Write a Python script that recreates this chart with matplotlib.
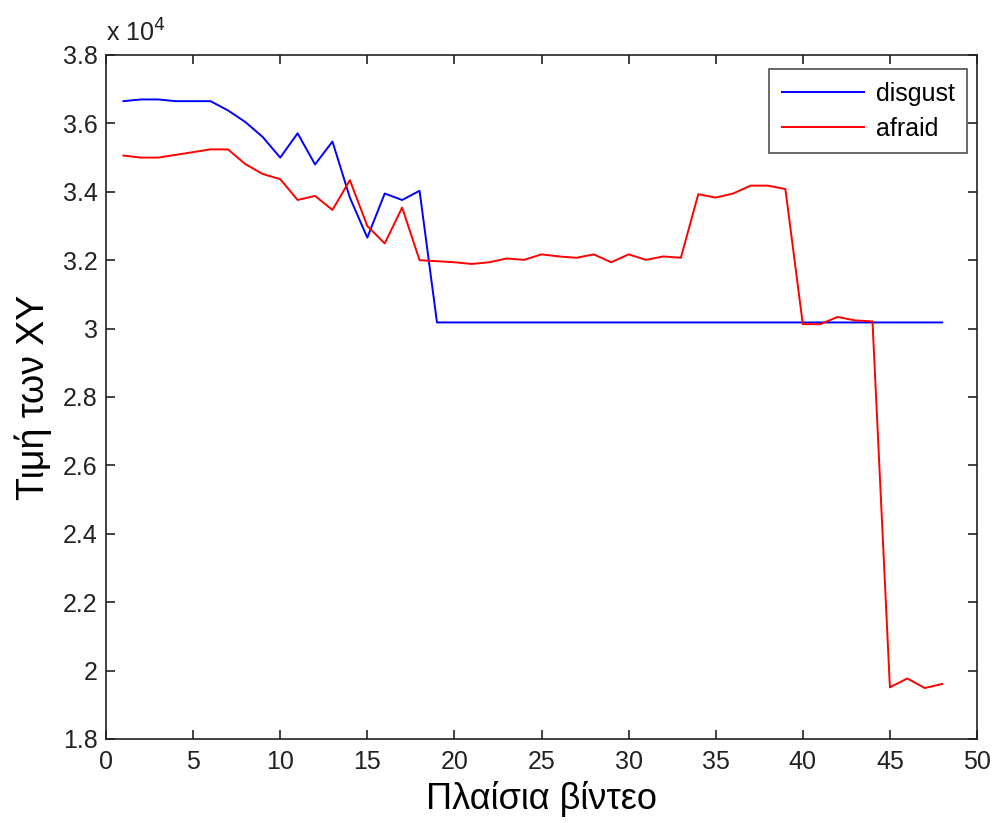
import matplotlib
matplotlib.use('Agg')
import matplotlib.pyplot as plt
import numpy as np

plt.rcParams['font.family'] = ['Liberation Sans', 'DejaVu Sans']

# video frames 1..48, values in units of 1e4
frames = list(range(1, 49))
disgust = [3.665, 3.670, 3.670, 3.665, 3.665, 3.665, 3.638, 3.604, 3.560, 3.500,
           3.571, 3.480, 3.547, 3.383, 3.266, 3.395, 3.376, 3.403] + [3.018] * 30
afraid = [3.506, 3.500, 3.500, 3.508, 3.516, 3.524, 3.524, 3.481, 3.452, 3.437,
          3.376, 3.388, 3.347, 3.434, 3.300, 3.249, 3.354, 3.200, 3.197, 3.194,
          3.189, 3.194, 3.205, 3.201, 3.217, 3.211, 3.207, 3.217, 3.194, 3.217,
          3.201, 3.211, 3.207, 3.393, 3.383, 3.395, 3.418, 3.418, 3.408, 3.013,
          3.013, 3.034, 3.024, 3.021, 1.951, 1.977, 1.949, 1.961]
series_names = ['disgust', 'afraid']

fig = plt.figure(figsize=(9.92, 8.23), dpi=100)
ax = fig.add_axes([106 / 992, 1 - 739 / 823, (977 - 106) / 992, (739 - 55) / 823])

ax.plot(frames, disgust, color='#0000ff', linewidth=1.4, label=series_names[0])
ax.plot(frames, afraid, color='#ff0000', linewidth=1.4, label=series_names[1])

ax.set_xlim(0, 50)
ax.set_ylim(1.8, 3.8)
ax.set_xticks(np.arange(0, 51, 5))
ax.set_yticks(np.arange(1.8, 3.81, 0.2))
ax.set_yticklabels([f'{v:g}' for v in np.round(np.arange(1.8, 3.81, 0.2), 1)])
ax.tick_params(direction='in', top=True, right=True, length=6.5, width=1.2,
               labelsize=18, colors='#222222')
ax.tick_params(axis='x', pad=8)
ax.tick_params(axis='y', pad=6)
for sp in ax.spines.values():
    sp.set_linewidth(1.2)
    sp.set_color('#222222')

ax.text(0, 1.012, r'x 10$^{4}$', transform=ax.transAxes, fontsize=18,
        color='#222222', ha='left', va='bottom')

ax.set_xlabel('Πλαίσια βίντεο', fontsize=26, labelpad=5)
ax.set_ylabel('Τιμή των XY', fontsize=27, labelpad=8)

leg = ax.legend(loc='upper right', fontsize=18, frameon=True, fancybox=False,
                handlelength=3.3, handletextpad=0.45, borderpad=0.5,
                labelspacing=0.45, borderaxespad=0,
                bbox_to_anchor=(0.9885, 0.9795))
leg.get_frame().set_edgecolor('#222222')
leg.get_frame().set_linewidth(1.2)

fig.savefig('out.png', dpi=100)
